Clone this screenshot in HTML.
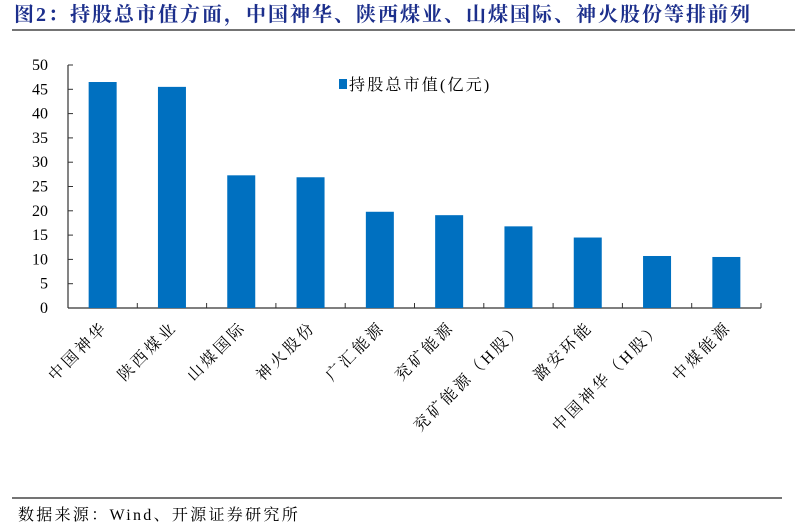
<!DOCTYPE html>
<html><head><meta charset="utf-8"><style>
body{margin:0;background:#fff;}
svg text{font-family:"Liberation Serif","Noto Serif CJK SC",serif;}
</style></head><body>
<svg width="807" height="525" viewBox="0 0 807 525" id="chart">
<text x="14" y="21" font-size="20" font-weight="bold" letter-spacing="2" fill="#1c2f8c">图2：持股总市值方面，中国神华、陕西煤业、山煤国际、神火股份等排前列</text>
<line x1="12" y1="30" x2="795" y2="30" stroke="#222" stroke-width="1.2"/>
<rect x="339" y="79" width="8" height="10" fill="#0070c0"/>
<text x="349" y="90" font-size="16" letter-spacing="2.2" fill="#000">持股总市值(亿元)</text>
<g id="axes"></g>
<g id="bars"></g>
<g id="labels"></g>
<line x1="12" y1="498" x2="782" y2="498" stroke="#222" stroke-width="1.2"/>
<text x="18" y="520" font-size="16" letter-spacing="2.3" fill="#000">数据来源：Wind、开源证券研究所</text>
</svg>
<script>
const categories=["中国神华","陕西煤业","山煤国际","神火股份","广汇能源","兖矿能源","兖矿能源（H股）","潞安环能","中国神华（H股）","中煤能源"];
const values=[46.5,45.5,27.3,26.9,19.8,19.1,16.8,14.5,10.7,10.5];
const yTicks=[0,5,10,15,20,25,30,35,40,45,50];
const NS="http://www.w3.org/2000/svg";
const x0=68,x1=761,yTop=65,yBot=308,yMax=50;
const bw=(x1-x0)/categories.length;
const y=v=>yBot-(v/yMax)*(yBot-yTop);
const xc=i=>x0+bw*(i+0.5);
function mk(t,a,p){const e=document.createElementNS(NS,t);for(const k in a)e.setAttribute(k,a[k]);p.appendChild(e);return e;}
const ax=document.getElementById('axes'),bg=document.getElementById('bars'),lg=document.getElementById('labels');
let l=mk('line',{x1:x0,y1:yTop,x2:x0,y2:yBot,stroke:'#333','stroke-width':1.2},ax);


l=mk('line',{x1:x0,y1:yBot,x2:x1,y2:yBot,stroke:'#333','stroke-width':1.2},ax);


yTicks.forEach(t=>{
 const tk=mk('line',{x1:x0,y1:y(t),x2:x0+5,y2:y(t),stroke:'#333'},ax);
 
 
 const tx=mk('text',{x:x0-20,y:y(t)+5,'font-size':16,'text-anchor':'end',fill:'#000'},ax);
 tx.textContent=t;
 
 
});
for(let i=0;i<=categories.length;i++){
 const tk=mk('line',{x1:x0+bw*i,y1:yBot,x2:x0+bw*i,y2:yBot-5,stroke:'#333'},ax);
 
 
}
values.forEach((v,i)=>{
 const r=mk('rect',{x:xc(i)-14,y:y(v),width:28,height:yBot-y(v),fill:'#0070c0'},bg);
 
 
});
categories.forEach((c,i)=>{
 const px=xc(i)+6,py=yBot+20;
 const t=mk('text',{x:px,y:py,'font-size':16,'letter-spacing':3,'text-anchor':'end',fill:'#000',transform:`rotate(-45 ${px} ${py})`},lg);
 t.textContent=c;
 
 
});
</script>
</body></html>
